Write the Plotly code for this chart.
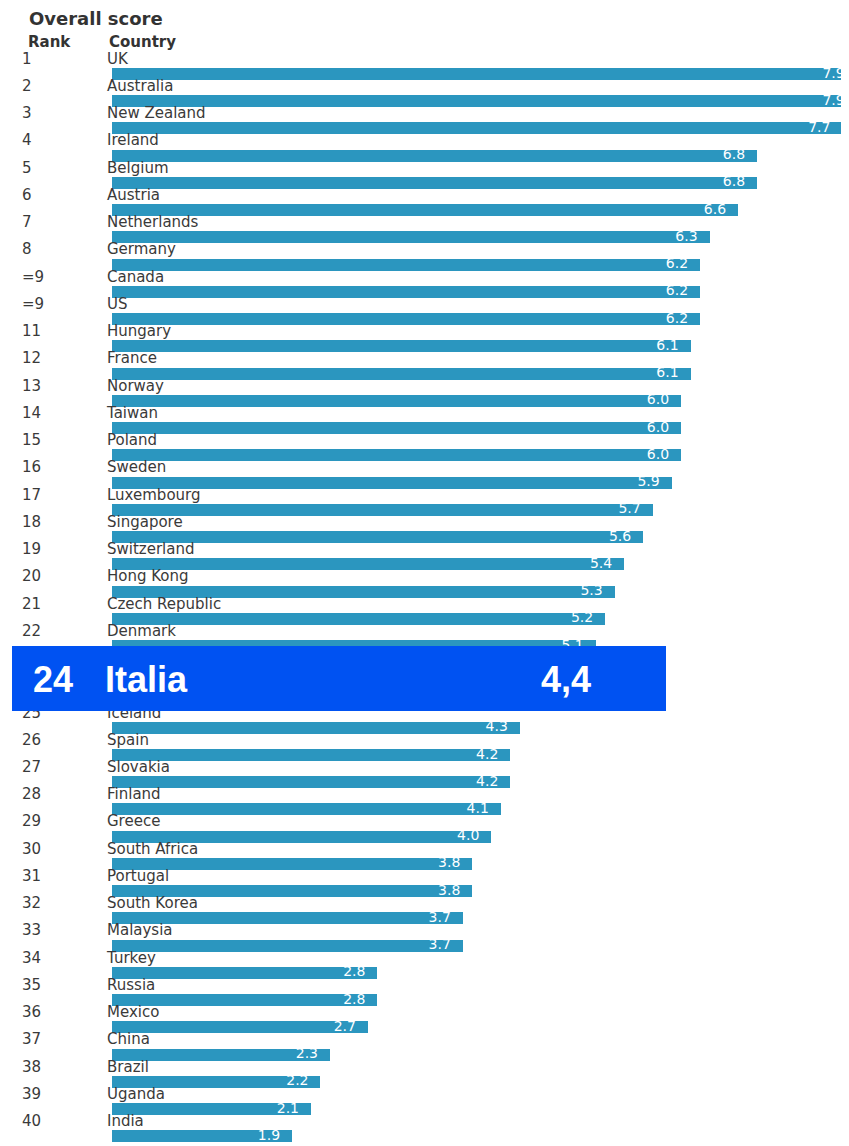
import plotly.graph_objects as go

# ---- data ----
ranks = ["1", "2", "3", "4", "5", "6", "7", "8", "=9", "=9", "11", "12", "13", "14", "15",
         "16", "17", "18", "19", "20", "21", "22", "25", "26", "27", "28", "29", "30",
         "31", "32", "33", "34", "35", "36", "37", "38", "39", "40"]
row_pos = [1, 2, 3, 4, 5, 6, 7, 8, 9, 10, 11, 12, 13, 14, 15, 16, 17, 18, 19, 20, 21, 22,
           25, 26, 27, 28, 29, 30, 31, 32, 33, 34, 35, 36, 37, 38, 39, 40]
countries = ["UK", "Australia", "New Zealand", "Ireland", "Belgium", "Austria", "Netherlands",
             "Germany", "Canada", "US", "Hungary", "France", "Norway", "Taiwan", "Poland",
             "Sweden", "Luxembourg", "Singapore", "Switzerland", "Hong Kong", "Czech Republic",
             "Denmark", "Iceland", "Spain", "Slovakia", "Finland", "Greece", "South Africa",
             "Portugal", "South Korea", "Malaysia", "Turkey", "Russia", "Mexico", "China",
             "Brazil", "Uganda", "India"]
scores = [7.9, 7.9, 7.7, 6.8, 6.8, 6.6, 6.3, 6.2, 6.2, 6.2, 6.1, 6.1, 6.0, 6.0, 6.0,
          5.9, 5.7, 5.6, 5.4, 5.3, 5.2, 5.1, 4.3, 4.2, 4.2, 4.1, 4.0, 3.8,
          3.8, 3.7, 3.7, 2.8, 2.8, 2.7, 2.3, 2.2, 2.1, 1.9]

highlight_rank = "24"
highlight_country = "Italia"
highlight_value = 4.4

title = "Overall score"
header_rank = "Rank"
header_country = "Country"

# ---- layout constants ----
PAGE_OFF = 8            # browser default body margin
W, H = 841, 1138        # figure fills the 849x1146 window after the page margin
PX_PER_UNIT = 94.9
ZERO_X = 111.7 - PAGE_OFF
ROW_PX = 27.24
ROW1_Y = 74 - PAGE_OFF
X_MIN = -ZERO_X / PX_PER_UNIT
X_MAX = (W - ZERO_X) / PX_PER_UNIT
Y_TOP = 1 - ROW1_Y / ROW_PX
Y_BOT = 1 + (H - ROW1_Y) / ROW_PX
BAR_COLOR = "#2b96bf"
TEXT_COLOR = "#3a3a3a"
LABEL_OFF = 0.514  # label line sits above its bar

def px_x(q):
    p = q - PAGE_OFF
    return X_MIN + p / W * (X_MAX - X_MIN)

def paper_x(q):
    return (q - PAGE_OFF) / W

def paper_y(q):
    return 1 - (q - PAGE_OFF) / H

fig = go.Figure()

fig.add_trace(go.Bar(
    x=scores, y=row_pos, orientation="h", width=0.44,
    marker=dict(color=BAR_COLOR, line=dict(width=0)),
    hoverinfo="skip", showlegend=False,
))

# value labels inside bar ends
label_x = [min(v - 0.126, X_MAX - 0.045) for v in scores]
fig.add_trace(go.Scatter(
    x=label_x, y=row_pos, mode="text", text=[f"{v:.1f}" for v in scores],
    textposition="middle left", cliponaxis=False,
    textfont=dict(family="DejaVu Sans", size=14, color="white"),
    hoverinfo="skip", showlegend=False,
))

# rank numbers
fig.add_trace(go.Scatter(
    x=[px_x(22)] * len(ranks), y=[r - LABEL_OFF for r in row_pos], mode="text",
    text=ranks, textposition="middle right", cliponaxis=False,
    textfont=dict(family="DejaVu Sans", size=15, color=TEXT_COLOR),
    hoverinfo="skip", showlegend=False,
))

# country names
fig.add_trace(go.Scatter(
    x=[px_x(107)] * len(countries), y=[r - LABEL_OFF for r in row_pos], mode="text",
    text=countries, textposition="middle right", cliponaxis=False,
    textfont=dict(family="DejaVu Sans", size=15, color=TEXT_COLOR),
    hoverinfo="skip", showlegend=False,
))

annotations = [
    dict(text=title, x=paper_x(27), y=paper_y(19), xref="paper", yref="paper", xanchor="left",
         yanchor="middle", showarrow=False,
         font=dict(family="DejaVu Sans", size=18, color="#333333", weight="bold")),
    dict(text=header_rank, x=paper_x(26), y=paper_y(42), xref="paper", yref="paper",
         xanchor="left", yanchor="middle", showarrow=False,
         font=dict(family="DejaVu Sans", size=15, color="#333333", weight="bold")),
    dict(text=header_country, x=paper_x(107), y=paper_y(42), xref="paper", yref="paper",
         xanchor="left", yanchor="middle", showarrow=False,
         font=dict(family="DejaVu Sans", size=15, color="#333333", weight="bold")),
]

hl_font = dict(family="Liberation Sans, Arial, sans-serif", size=36, color="white", weight="bold")
hl_y = paper_y(679)
annotations += [
    dict(text=highlight_rank, x=paper_x(31), y=hl_y, xref="paper", yref="paper",
         xanchor="left", yanchor="middle", showarrow=False, font=hl_font),
    dict(text=highlight_country, x=paper_x(103), y=hl_y, xref="paper", yref="paper",
         xanchor="left", yanchor="middle", showarrow=False, font=hl_font),
    dict(text=f"{highlight_value:.1f}".replace(".", ","), x=paper_x(539), y=hl_y,
         xref="paper", yref="paper", xanchor="left", yanchor="middle", showarrow=False,
         font=hl_font),
]

fig.update_layout(
    width=W, height=H,
    margin=dict(l=0, r=0, t=0, b=0),
    paper_bgcolor="white", plot_bgcolor="white",
    xaxis=dict(range=[X_MIN, X_MAX], visible=False, fixedrange=True),
    yaxis=dict(range=[Y_BOT, Y_TOP], visible=False, fixedrange=True),
    bargap=0,
    shapes=[dict(type="rect", xref="paper", yref="paper", x0=paper_x(12), x1=paper_x(666),
                 y0=paper_y(711), y1=paper_y(646), fillcolor="#0052f2", line=dict(width=0),
                 layer="above")],
    annotations=annotations,
    showlegend=False,
)

fig.write_html("out.html")
